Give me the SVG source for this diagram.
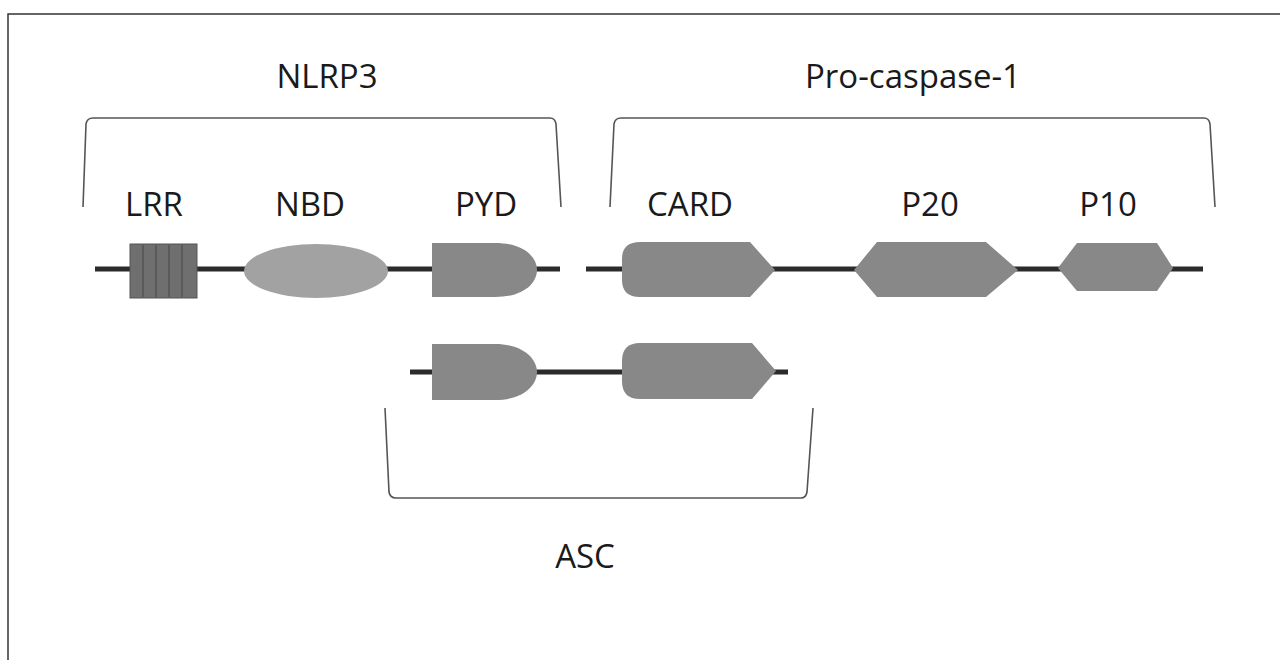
<svg xmlns="http://www.w3.org/2000/svg" width="1280" height="660" viewBox="0 0 1280 660">
<style>
.lbl{font-family:"Open Sans","Liberation Sans",sans-serif;font-size:33px;fill:#1a1a1a;text-anchor:middle}
.br{fill:none;stroke:#555555;stroke-width:1.6}
.bb{fill:none;stroke:#2b2b2b;stroke-width:5}
.dom{fill:#888888}
</style>
<rect width="1280" height="660" fill="#ffffff"/>
<g id="frame"><path d="M8 660 V14 H1280" fill="none" stroke="#333" stroke-width="1.5"/></g>
<g id="labels">
<text class="lbl" x="327" y="88">NLRP3</text>
<text class="lbl" x="913" y="88">Pro-caspase-1</text>
<text class="lbl" x="154" y="216">LRR</text>
<text class="lbl" x="310" y="216">NBD</text>
<text class="lbl" x="486" y="216">PYD</text>
<text class="lbl" x="690" y="216">CARD</text>
<text class="lbl" x="930" y="216">P20</text>
<text class="lbl" x="1108" y="216">P10</text>
<text class="lbl" x="585" y="568">ASC</text>
</g>
<g id="connectors">
<line class="bb" x1="95" y1="269" x2="560" y2="269"/>
<line class="bb" x1="586" y1="269" x2="1203" y2="269"/>
<line class="bb" x1="410" y1="372" x2="788" y2="372"/>
</g>
<g id="brackets">
<path class="br" d="M83 207 L86 124 Q87 118 93 118 H550 Q555 118 556 124 L561 207"/>
<path class="br" d="M610 207 L614 124 Q615 118 621 118 H1204 Q1209 118 1210 124 L1215 207"/>
<path class="br" d="M385 408 L389 492 Q390 498 396 498 H801 Q806 498 807 492 L813 408"/>
</g>
<g id="LRR">
<rect x="130" y="244" width="67" height="54" fill="#6f6f6f" stroke="#555" stroke-width="1"/>
<path d="M143 245 V297 M156 245 V297 M169 245 V297 M182 245 V297" stroke="#5a5a5a" stroke-width="2"/>
</g>
<g id="NBD"><ellipse cx="316" cy="271" rx="72" ry="27" fill="#a2a2a2"/></g>
<g id="PYD"><path class="dom" d="M432 243 H495 C525 243 537 258 537 270 C537 282 525 297 495 297 H432 Z"/></g>
<g id="CARD"><path class="dom" d="M640 242 H750 L775 270 L750 297 H640 Q622 297 622 280 V259 Q622 242 640 242 Z"/></g>
<g id="P20"><path class="dom" d="M877 242 H986 L1018 270 L986 297 H877 L854 270 Z"/></g>
<g id="P10"><path class="dom" d="M1077 243 H1157 L1173 268 L1157 291 H1077 L1058 268 Z"/></g>
<g id="ASC_PYD"><path class="dom" d="M432 344 H495 C525 344 537 360 537 372 C537 384 525 400 495 400 H432 Z"/></g>
<g id="ASC_CARD"><path class="dom" d="M640 343 H752 L776 371 L752 399 H640 Q622 399 622 381 V361 Q622 343 640 343 Z"/></g>
</svg>
